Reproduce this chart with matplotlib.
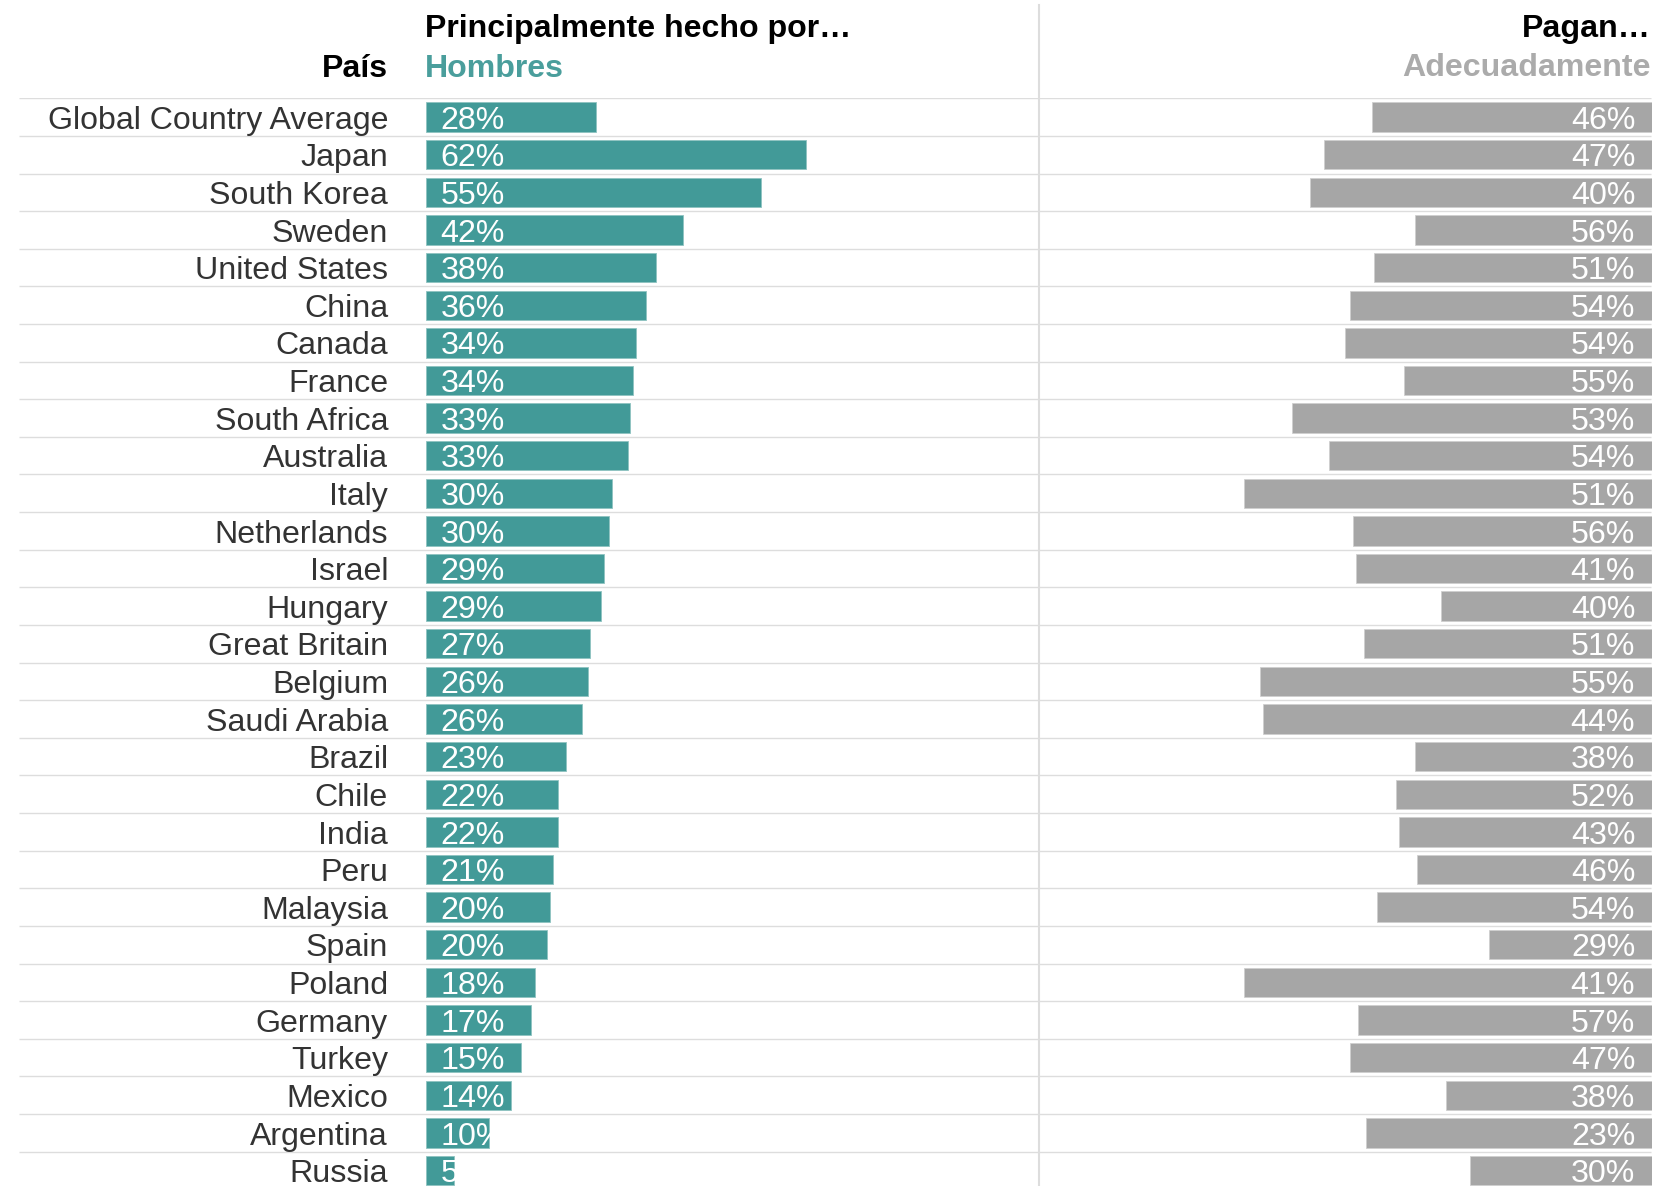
import numpy as np
import matplotlib.pyplot as plt
from matplotlib.lines import Line2D

plt.rcParams['font.family'] = ['Liberation Sans', 'DejaVu Sans']

# data
paises = ['Global Country Average', 'Japan', 'South Korea', 'Sweden', 'United States',
          'China', 'Canada', 'France', 'South Africa', 'Australia', 'Italy',
          'Netherlands', 'Israel', 'Hungary', 'Great Britain', 'Belgium',
          'Saudi Arabia', 'Brazil', 'Chile', 'India', 'Peru', 'Malaysia', 'Spain',
          'Poland', 'Germany', 'Turkey', 'Mexico', 'Argentina', 'Russia']

# "Principalmente hecho por... Hombres" (bar length and printed label)
hombres = [27.7, 62.0, 54.6, 42.0, 37.6, 35.9, 34.2, 33.8, 33.3, 32.9, 30.3,
           29.9, 29.0, 28.5, 26.8, 26.4, 25.5, 22.9, 21.6, 21.6, 20.7, 20.3, 19.8,
           17.7, 17.2, 15.5, 13.8, 10.3, 4.6]
hombres_lbl = [28, 62, 55, 42, 38, 36, 34, 34, 33, 33, 30, 30, 29, 29, 27, 26, 26,
               23, 22, 22, 21, 20, 20, 18, 17, 15, 14, 10, 5]

# "Pagan... Adecuadamente" (bar length and printed label)
pagan = [45.7, 53.5, 55.7, 38.7, 45.3, 49.2, 50.0, 40.5, 58.7, 52.6, 66.6,
         48.7, 48.3, 34.4, 47.0, 63.9, 63.5, 38.7, 41.8, 41.3, 38.3, 44.8, 26.5,
         66.6, 47.9, 49.2, 33.5, 46.6, 29.6]
pagan_lbl = [46, 47, 40, 56, 51, 54, 54, 55, 53, 54, 51, 56, 41, 40, 51, 55, 44,
             38, 52, 43, 46, 54, 29, 41, 57, 47, 38, 23, 30]

TEAL = '#429a98'
GREY = '#a6a6a6'
LINE = '#dddddd'
FS = 23.1

W, H = 1676, 1186
fig = plt.figure(figsize=(W / 100, H / 100), dpi=100)

top = 98.3        # first separator line (px from top)
row_h = 37.62     # row height in px
n = len(paises)
y = np.arange(n)
ybot = -0.5 + (H - top) / row_h
hfrac = (H - top) / H

# background axes: x in pixels, y in rows
ax_bg = fig.add_axes([0, 0, 1, hfrac])
ax_bg.set_xlim(0, W)
ax_bg.set_ylim(ybot, -0.5)
ax_bg.axis('off')
ax_bg.hlines(np.arange(n + 1) - 0.5, 19, 1651, color=LINE, lw=1.0)
for i, p in enumerate(paises):
    ax_bg.text(388, i + 0.31, p, ha='right', va='baseline', color='#333333', fontsize=FS)

# left panel
ax_l = fig.add_axes([426 / W, 0, 613 / W, hfrac])
ax_l.set_xlim(0, 100)
ax_l.set_ylim(ybot, -0.5)
ax_l.axis('off')
bars = ax_l.barh(y, hombres, height=0.78, color=TEAL, edgecolor='#8fc3c1', linewidth=0.6)
for i, b in enumerate(bars.patches):
    t = ax_l.text(2.4, i + 0.31, f'{hombres_lbl[i]}%', ha='left', va='baseline',
                  color='white', fontsize=FS)
    t.set_clip_path(b)

# right panel
ax_r = fig.add_axes([1039 / W, 0, 612.7 / W, hfrac])
ax_r.set_xlim(100, 0)
ax_r.set_ylim(ybot, -0.5)
ax_r.axis('off')
bars_r = ax_r.barh(y, pagan, height=0.78, color=GREY, edgecolor='#cfcfcf', linewidth=0.6)
for i, b in enumerate(bars_r.patches):
    t = ax_r.text(2.7, i + 0.31, f'{pagan_lbl[i]}%', ha='right', va='baseline',
                  color='white', fontsize=FS)
    t.set_clip_path(b)

# divider
fig.add_artist(Line2D([1039 / W, 1039 / W], [0, 1 - 5 / H], color=LINE, lw=1.5))

# headers
def ftext(x, yy, s, **kw):
    fig.text(x / W, 1 - yy / H, s, va='baseline', fontsize=FS, fontweight='bold', **kw)

ftext(425, 37.3, 'Principalmente hecho por…', color='black')
ftext(388, 77.3, 'País', color='black', ha='right')
ftext(425, 77.3, 'Hombres', color='#4a9e9c')
ftext(1651, 36.5, 'Pagan…', color='black', ha='right')
ftext(1651, 75.5, 'Adecuadamente', color='#ababab', ha='right')

fig.savefig('out.png', dpi=100)
